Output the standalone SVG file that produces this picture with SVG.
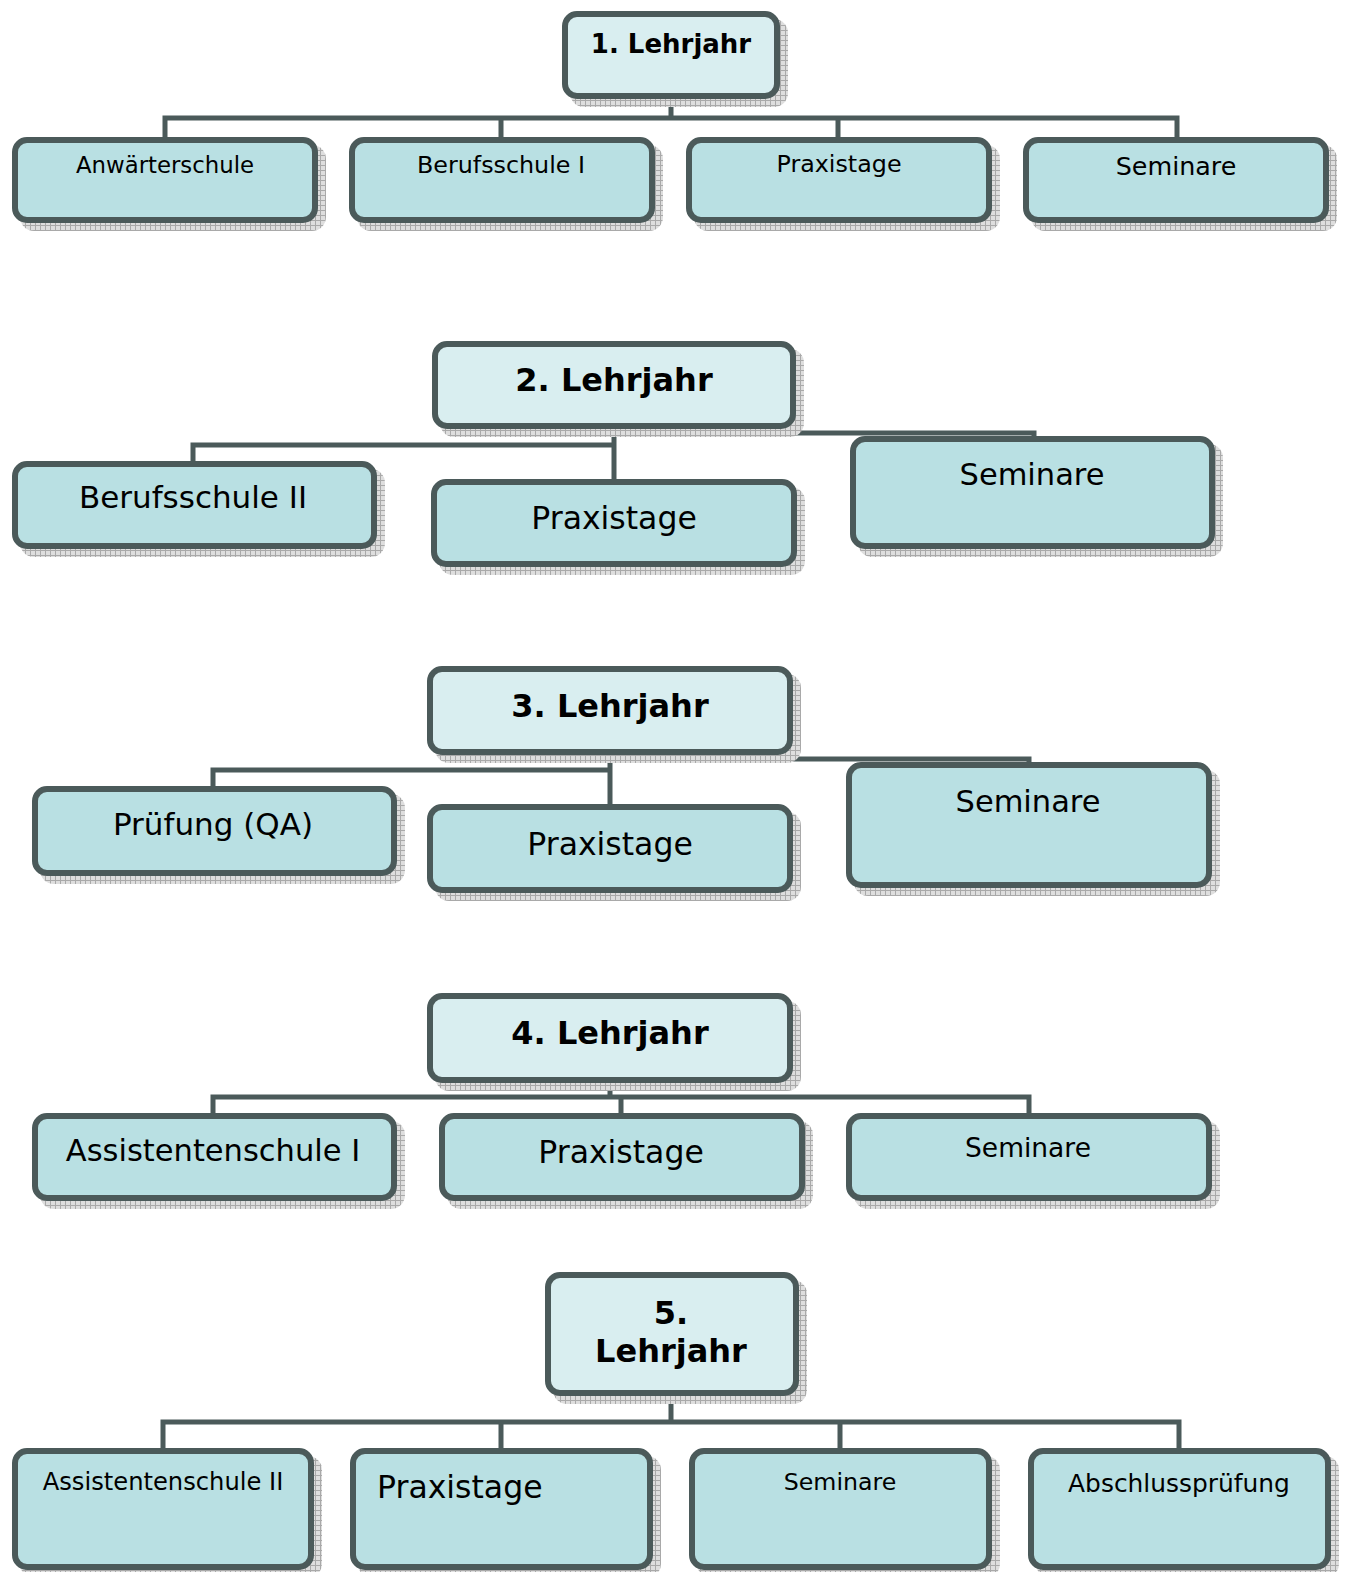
<svg xmlns="http://www.w3.org/2000/svg" width="1348" height="1572" viewBox="0 0 1348 1572">
<defs>
<pattern id="hatch" width="5" height="5" patternUnits="userSpaceOnUse">
<rect width="5" height="5" fill="#dedede"/>
<path d="M0 0.5H5M0.5 0V5" stroke="#a9a9a9" stroke-width="1"/>
</pattern>
</defs>
<style>
.sh{fill:url(#hatch);}
.p{fill:#d9eef0;stroke:#4b5a5a;stroke-width:6;}
.c{fill:#b9e0e3;stroke:#4b5a5a;stroke-width:6;}
.ln{fill:none;stroke:#4b5a5a;stroke-width:5;}
text{font-family:"DejaVu Sans","Verdana",sans-serif;fill:#000;}
.b{font-weight:bold;}
.m{text-anchor:middle;}
</style>
<rect width="1348" height="1572" fill="#fff"/>
<g id="connectors">
<path class="ln" d="M671 98V118M165 137V118H1177V137M501 118V137M838 118V137"/>
<path class="ln" d="M614 428V481M193 462V445H614M614 433H1034V439"/>
<path class="ln" d="M610 754V806M213 788V770H610M610 759H1029V765"/>
<path class="ln" d="M610 1081V1097M213 1115V1097H1029V1115M621 1097V1115"/>
<path class="ln" d="M671 1394V1422M163 1450V1422H1179V1450M501 1422V1450M840 1422V1450"/>
</g>
<g id="n1">
<rect class="sh" x="570" y="19" width="218" height="88" rx="14"/>
<rect class="p" x="565" y="14" width="212" height="82" rx="12"/>
<text class="b m" x="671" y="53" font-size="26">1. Lehrjahr</text>
</g>
<g id="n1a">
<rect class="sh" x="20" y="145" width="306" height="86" rx="14"/>
<rect class="c" x="15" y="140" width="300" height="80" rx="12"/>
<text class="m" x="165" y="173" font-size="22.8">Anwärterschule</text>
</g>
<g id="n1b">
<rect class="sh" x="357" y="145" width="306" height="86" rx="14"/>
<rect class="c" x="352" y="140" width="300" height="80" rx="12"/>
<text class="m" x="501" y="173" font-size="23.8">Berufsschule I</text>
</g>
<g id="n1c">
<rect class="sh" x="694" y="145" width="306" height="86" rx="14"/>
<rect class="c" x="689" y="140" width="300" height="80" rx="12"/>
<text class="m" x="839" y="172" font-size="23.8">Praxistage</text>
</g>
<g id="n1d">
<rect class="sh" x="1031" y="145" width="306" height="86" rx="14"/>
<rect class="c" x="1026" y="140" width="300" height="80" rx="12"/>
<text class="m" x="1176" y="175" font-size="25.4">Seminare</text>
</g>
<g id="n2">
<rect class="sh" x="440" y="349" width="364" height="88" rx="14"/>
<rect class="p" x="435" y="344" width="358" height="82" rx="12"/>
<text class="b m" x="614" y="391" font-size="32">2. Lehrjahr</text>
</g>
<g id="n2a">
<rect class="sh" x="20" y="469" width="365" height="88" rx="14"/>
<rect class="c" x="15" y="464" width="359" height="82" rx="12"/>
<text class="m" x="193" y="508" font-size="31">Berufsschule II</text>
</g>
<g id="n2b">
<rect class="sh" x="439" y="487" width="366" height="88" rx="14"/>
<rect class="c" x="434" y="482" width="360" height="82" rx="12"/>
<text class="m" x="614" y="529" font-size="31.5">Praxistage</text>
</g>
<g id="n2c">
<rect class="sh" x="858" y="444" width="365" height="113" rx="14"/>
<rect class="c" x="853" y="439" width="359" height="107" rx="12"/>
<text class="m" x="1032" y="485" font-size="30.5">Seminare</text>
</g>
<g id="n3">
<rect class="sh" x="435" y="674" width="366" height="89" rx="14"/>
<rect class="p" x="430" y="669" width="360" height="83" rx="12"/>
<text class="b m" x="610" y="717" font-size="32">3. Lehrjahr</text>
</g>
<g id="n3a">
<rect class="sh" x="40" y="794" width="365" height="90" rx="14"/>
<rect class="c" x="35" y="789" width="359" height="84" rx="12"/>
<text class="m" x="213" y="835" font-size="31">Prüfung (QA)</text>
</g>
<g id="n3b">
<rect class="sh" x="435" y="812" width="366" height="89" rx="14"/>
<rect class="c" x="430" y="807" width="360" height="83" rx="12"/>
<text class="m" x="610" y="855" font-size="31.5">Praxistage</text>
</g>
<g id="n3c">
<rect class="sh" x="854" y="770" width="366" height="126" rx="14"/>
<rect class="c" x="849" y="765" width="360" height="120" rx="12"/>
<text class="m" x="1028" y="812" font-size="30.5">Seminare</text>
</g>
<g id="n4">
<rect class="sh" x="435" y="1001" width="366" height="90" rx="14"/>
<rect class="p" x="430" y="996" width="360" height="84" rx="12"/>
<text class="b m" x="610" y="1044" font-size="32">4. Lehrjahr</text>
</g>
<g id="n4a">
<rect class="sh" x="40" y="1121" width="365" height="88" rx="14"/>
<rect class="c" x="35" y="1116" width="359" height="82" rx="12"/>
<text class="m" x="213" y="1161" font-size="30.5">Assistentenschule I</text>
</g>
<g id="n4b">
<rect class="sh" x="447" y="1121" width="366" height="88" rx="14"/>
<rect class="c" x="442" y="1116" width="360" height="82" rx="12"/>
<text class="m" x="621" y="1163" font-size="31.5">Praxistage</text>
</g>
<g id="n4c">
<rect class="sh" x="854" y="1121" width="366" height="88" rx="14"/>
<rect class="c" x="849" y="1116" width="360" height="82" rx="12"/>
<text class="m" x="1028" y="1157" font-size="26.5">Seminare</text>
</g>
<g id="n5">
<rect class="sh" x="553" y="1280" width="254" height="124" rx="14"/>
<rect class="p" x="548" y="1275" width="248" height="118" rx="12"/>
<text class="b m" x="671" y="1324" font-size="32">5.</text>
<text class="b m" x="671" y="1362" font-size="32">Lehrjahr</text>
</g>
<g id="n5a">
<rect class="sh" x="20" y="1456" width="302" height="122" rx="14"/>
<rect class="c" x="15" y="1451" width="296" height="116" rx="12"/>
<text class="m" x="163" y="1490" font-size="24.2">Assistentenschule II</text>
</g>
<g id="n5b">
<rect class="sh" x="358" y="1456" width="303" height="122" rx="14"/>
<rect class="c" x="353" y="1451" width="297" height="116" rx="12"/>
<text x="377" y="1498" font-size="31.5">Praxistage</text>
</g>
<g id="n5c">
<rect class="sh" x="697" y="1456" width="303" height="122" rx="14"/>
<rect class="c" x="692" y="1451" width="297" height="116" rx="12"/>
<text class="m" x="840" y="1490" font-size="23.7">Seminare</text>
</g>
<g id="n5d">
<rect class="sh" x="1036" y="1456" width="303" height="122" rx="14"/>
<rect class="c" x="1031" y="1451" width="297" height="116" rx="12"/>
<text class="m" x="1179" y="1492" font-size="24.9">Abschlussprüfung</text>
</g>
</svg>
